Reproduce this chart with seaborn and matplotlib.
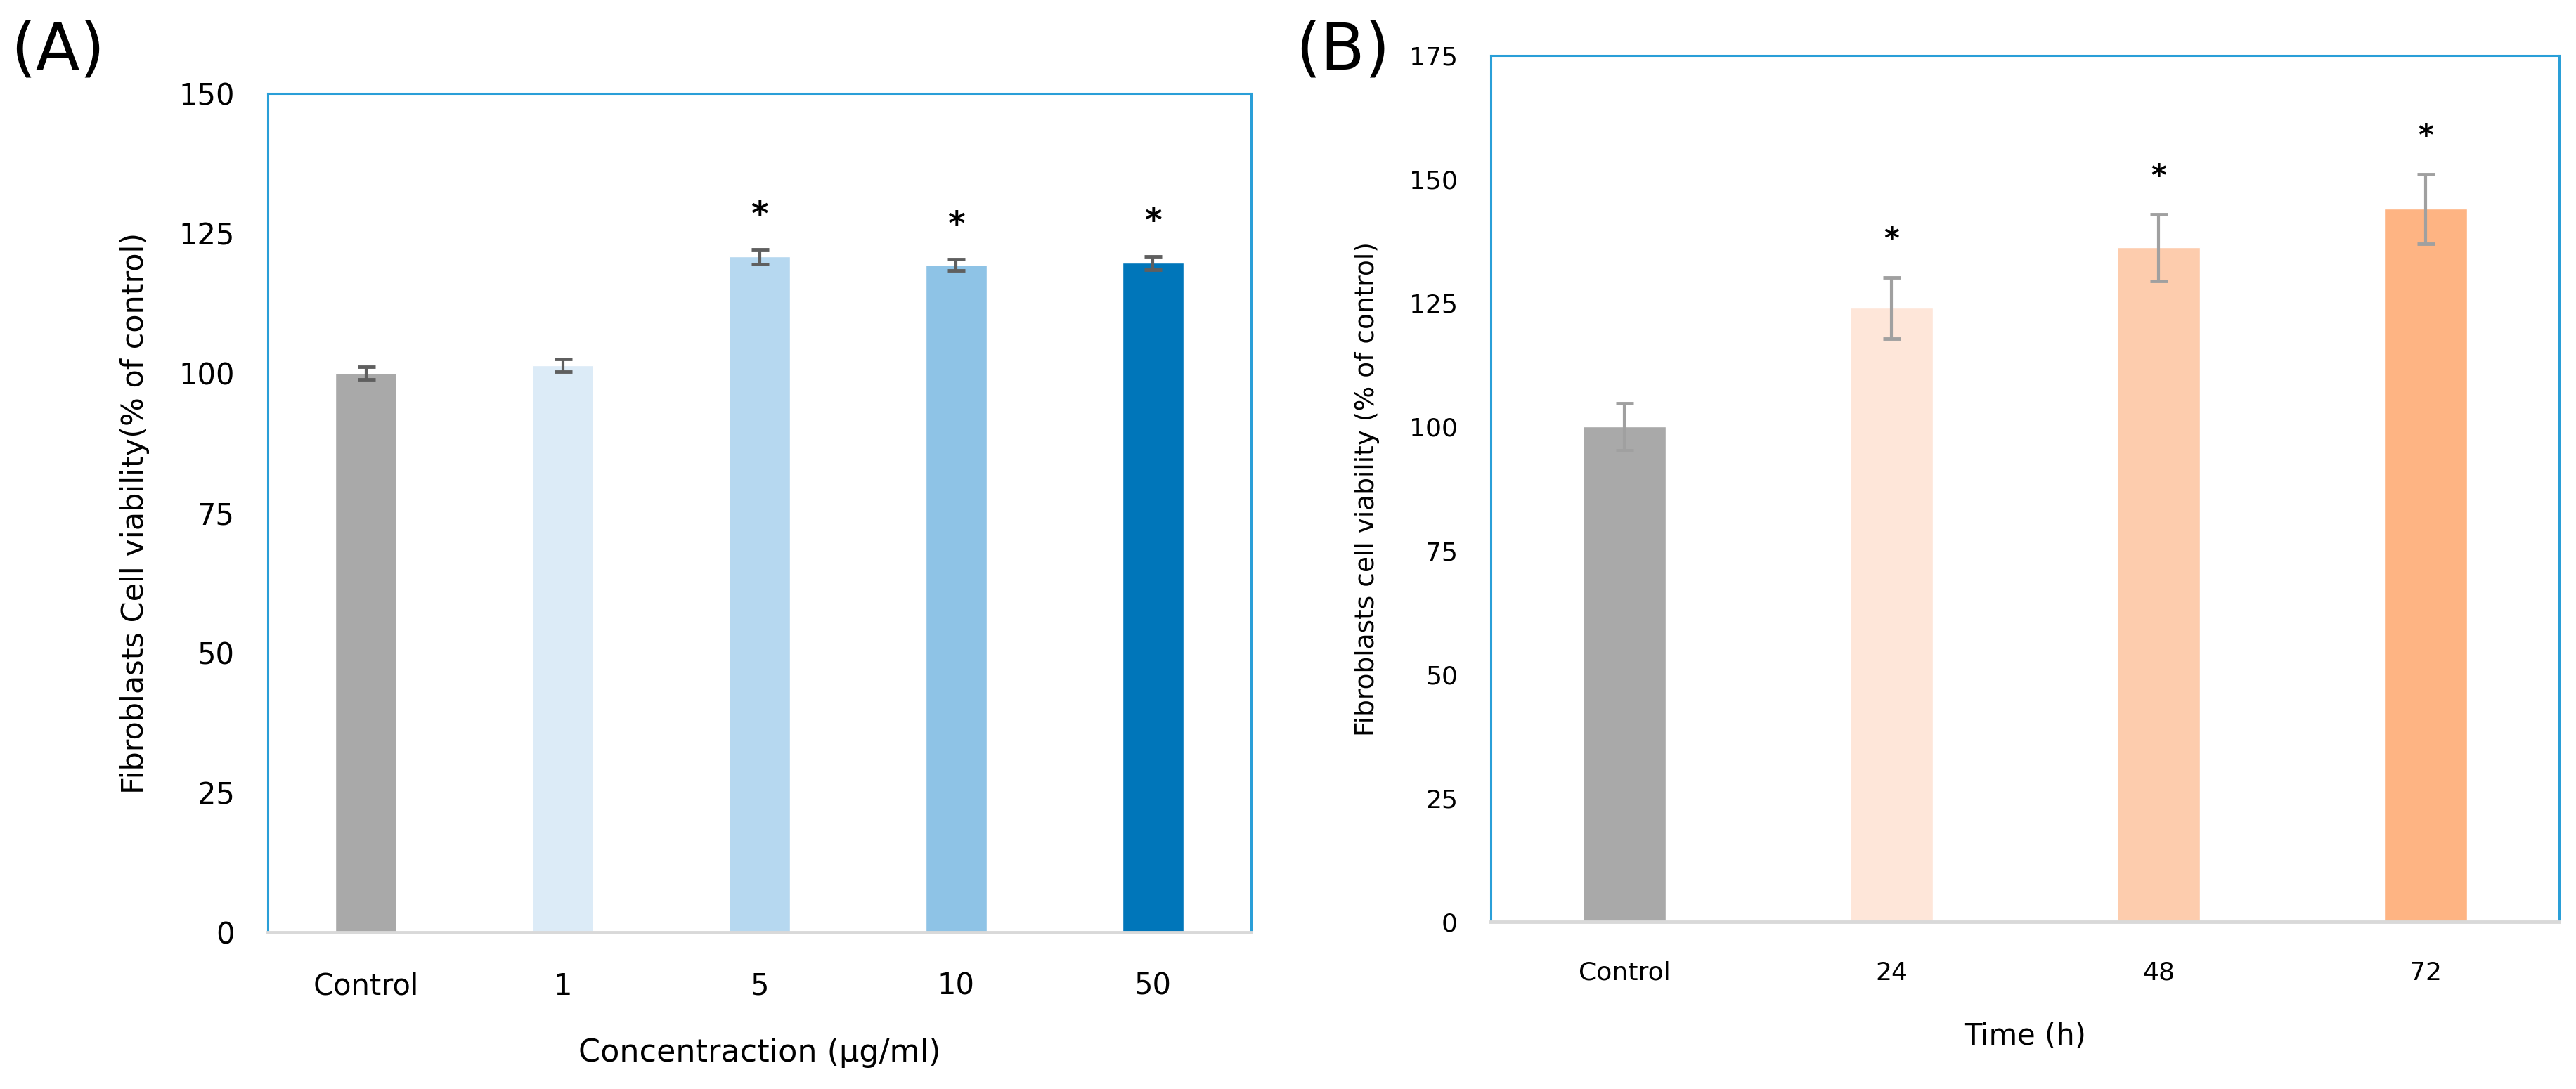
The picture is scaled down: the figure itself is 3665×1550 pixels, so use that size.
import matplotlib
matplotlib.use("Agg")
import matplotlib.pyplot as plt
import seaborn as sns
import pandas as pd

sns.set_theme(style="white")
plt.rcParams["font.family"] = ["DejaVu Sans"]
plt.rcParams.update({"text.color": "black", "axes.labelcolor": "black",
                     "xtick.color": "black", "ytick.color": "black"})

# panel A: concentration series
conc_labels = ["Control", "1", "5", "10", "50"]
conc_mean = [100.0, 101.4, 120.8, 119.3, 119.7]
conc_err = [1.1, 1.1, 1.3, 1.0, 1.2]
conc_star = [False, False, True, True, True]
conc_colors = ["#A9A9A9", "#DCEBF7", "#B6D8F0", "#8EC3E6", "#0076BA"]

# panel B: time series
time_labels = ["Control", "24", "48", "72"]
time_mean = [100.0, 124.0, 136.2, 144.0]
time_err = [4.8, 6.2, 6.8, 7.0]
time_star = [False, True, True, True]
time_colors = ["#A9A9A9", "#FEE6D9", "#FDCCAD", "#FEB483"]

BLUE = "#2A9FD8"


def panel(ax, labels, mean, err, star, colors, ymax, xlabel, ylabel,
          tick_fs, lab_fs, ylab_fs, star_off, ecolor):
    df = pd.DataFrame({"group": labels, "value": mean})
    sns.barplot(data=df, x="group", y="value", hue="group", palette=colors,
                order=labels, hue_order=labels, width=0.31, legend=False,
                saturation=1, ax=ax)
    xs = range(len(labels))
    eb = ax.errorbar(xs, mean, yerr=err, fmt="none", ecolor=ecolor,
                     elinewidth=3, capsize=9, capthick=3.5, zorder=5)
    for cl in eb[1]:
        cl.set_color("#5A5A5A")
    for x, m, e, s in zip(xs, mean, err, star):
        if s:
            ax.text(x, m + e + star_off, "*", ha="center", va="center",
                    fontsize=tick_fs + 4, fontweight="bold", color="black")
    ax.set_xlim(-0.5, len(labels) - 0.5)
    ax.set_ylim(0, ymax)
    ax.set_yticks(range(0, ymax + 1, 25))
    ax.set_xlabel(xlabel, fontsize=lab_fs, labelpad=38)
    ax.set_ylabel(ylabel, fontsize=ylab_fs, labelpad=30)
    ax.tick_params(axis="both", length=0)
    ax.tick_params(axis="x", labelsize=tick_fs, pad=40)
    ax.tick_params(axis="y", labelsize=tick_fs, pad=34)
    for side in ["left", "top", "right"]:
        ax.spines[side].set_color(BLUE)
        ax.spines[side].set_linewidth(2.2)
    ax.spines["bottom"].set_color("#D9D9D9")
    ax.spines["bottom"].set_linewidth(3.5)
    ax.grid(False)


fig = plt.figure(figsize=(36.66, 15.5), dpi=100)
fig.patch.set_facecolor("white")

axA = fig.add_axes([0.1039, 0.1439, 0.3817, 0.7703])
panel(axA, conc_labels, conc_mean, conc_err, conc_star, conc_colors, 150,
      "Concentraction (μg/ml)", "Fibroblasts Cell viability(% of control)",
      30, 32, 31, 6.0, "#5F5F5F")

axB = fig.add_axes([0.5786, 0.1535, 0.4146, 0.7955])
panel(axB, time_labels, time_mean, time_err, time_star, time_colors, 175,
      "Time (h)", "Fibroblasts cell viability (% of control)",
      26, 30, 27, 7.5, "#A0A0A0")

fig.text(0.004, 0.953, "(A)", fontsize=66, va="center", ha="left")
fig.text(0.5027, 0.953, "(B)", fontsize=66, va="center", ha="left")

fig.savefig("out.png", dpi=100, facecolor="white")
